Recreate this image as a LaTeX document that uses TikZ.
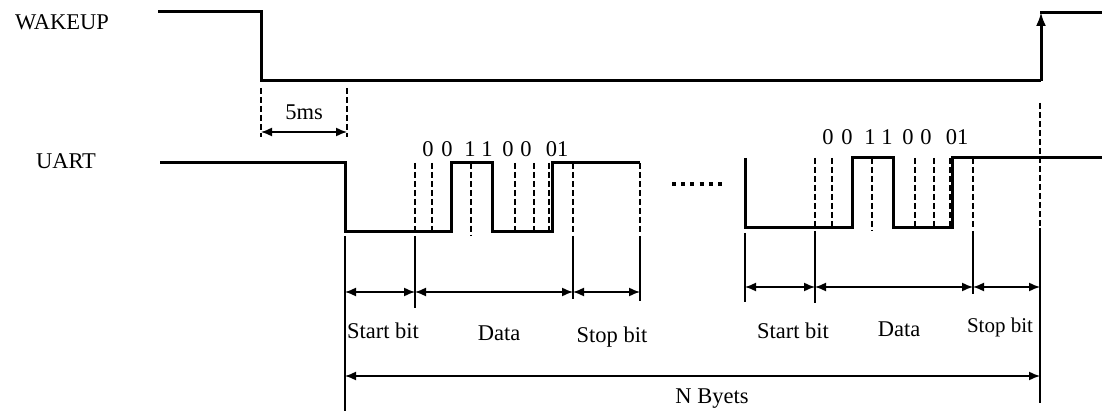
\documentclass[tikz,border=0pt]{standalone}
\usepackage{fontspec}
\setmainfont{Liberation Serif}
\usetikzlibrary{arrows.meta}

\tikzset{
  signal/.style = {line width=3pt, line join=miter},
  bitline/.style = {line width=2.6pt, dash pattern=on 6pt off 3pt},
  extline/.style = {line width=1.5pt},
  dimarrow/.style = {line width=1.5pt, {Latex[length=11pt,width=9pt]}-{Latex[length=11pt,width=9pt]}},
  lbl/.style = {font=\fontsize{22.5}{27}\selectfont, inner sep=0pt, anchor=base},
}

\begin{document}
\begin{tikzpicture}[x=1pt, y=-1pt]
  \useasboundingbox (0,0) rectangle (1102,411);

  % Signal names
  \node [lbl] (wakeup) at (62,30) {WAKEUP};
  \node [lbl] (uart) at (66,169) {UART};

  % WAKEUP signal
  \draw [signal] (158,12) -- (261,12) -- (261,81) -- (1041,81);
  \draw [signal, -{Latex[length=14pt,width=10pt]}] (1041,81) -- (1041,12);
  \draw [signal] (1040,13) -- (1102,13);

  % 5ms delay
  \coordinate (d_left) at (261,132);
  \coordinate (d_right) at (347,132);
  \draw [bitline] (261,88) -- (261,137);
  \draw [bitline] (347,88) -- (347,137);
  \draw [dimarrow] (d_left) -- (d_right);
  \node [lbl] (t_delay) at (304,120) {5ms};

  % UART signal, first and last byte
  \draw [signal] (160,163) -- (345,163) -- (345,232) -- (451,232) -- (451,163)
    -- (492,163) -- (492,232) -- (552,232) -- (552,163) -- (640,163);
  \draw [signal] (745,158) -- (745,228) -- (852,228) -- (852,158) -- (893,158)
    -- (893,228) -- (952,228) -- (952,158) -- (1102,158);

  % Bit borders
  \foreach \x in {415,432,515,534,549,573,640}
    \draw [bitline] (\x,163) -- (\x,232);
  \draw [bitline] (471,163) -- (471,236);
  \foreach \x in {815,832,915,934,950,973}
    \draw [bitline] (\x,158) -- (\x,228);
  \draw [bitline] (872,158) -- (872,231);
  \draw [bitline] (1040,103) -- (1040,228);

  % Bit values
  \foreach \x/\b in {428/0,447/0,470/1,487/1,508/0,526/0,557/01} {
    \node [lbl] (b1_\x) at (\x,157) {\b};
    \node [lbl] (b2_\x) at (\x+400,145) {\b};
  }

  % More bytes
  \draw [line width=4pt, dash pattern=on 4pt off 5.2pt] (672,184) -- (722,184);

  % Extension lines
  \draw [extline] (345,236) -- (345,411);
  \draw [extline] (415,236) -- (415,308);
  \draw [extline] (573,236) -- (573,299);
  \draw [extline] (640,236) -- (640,301);
  \draw [extline] (745,233) -- (745,302);
  \draw [extline] (815,231) -- (815,303);
  \draw [extline] (973,231) -- (973,294);
  \draw [extline] (1040,228) -- (1040,403);

  % Frame parts
  \coordinate (s1) at (345,292);
  \coordinate (d1) at (415,292);
  \coordinate (p1) at (573,292);
  \coordinate (e1) at (640,292);
  \coordinate (s2) at (745,287);
  \coordinate (d2) at (815,287);
  \coordinate (p2) at (973,287);
  \coordinate (e2) at (1040,287);
  \draw [dimarrow] (s1) -- (d1);
  \draw [dimarrow] (d1) -- (p1);
  \draw [dimarrow] (p1) -- (e1);
  \draw [dimarrow] (s2) -- (d2);
  \draw [dimarrow] (d2) -- (p2);
  \draw [dimarrow] (p2) -- (e2);
  \draw [dimarrow] (345,376) -- (1040,376);

  \node [lbl] (start1) at (383,338) {Start bit};
  \node [lbl] (data1) at (499,340) {Data};
  \node [lbl] (stop1) at (612,342) {Stop bit};
  \node [lbl] (start2) at (793,338) {Start bit};
  \node [lbl] (data2) at (899,336) {Data};
  \node [lbl, font=\fontsize{21}{25}\selectfont] (stop2) at (1000,333) {Stop bit};
  \node [lbl] (nbytes) at (712,403) {N Byets};
\end{tikzpicture}
\end{document}
